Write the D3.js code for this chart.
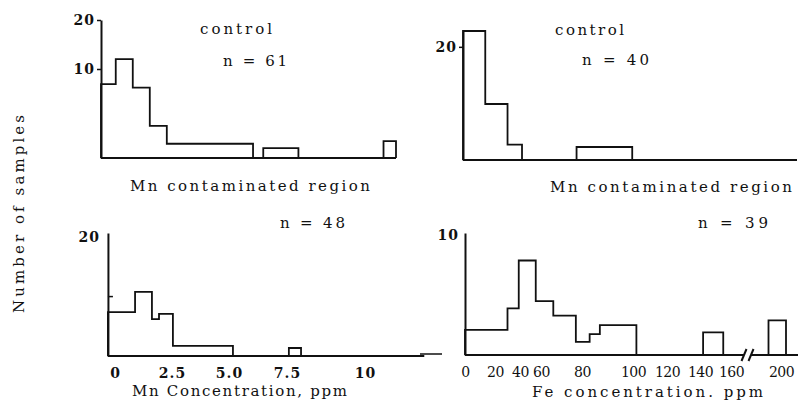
<!DOCTYPE html>
<html>
<head>
<meta charset="utf-8">
<script src="https://cdn.jsdelivr.net/npm/d3@7"></script>
<style>
  html, body { margin: 0; padding: 0; background: #fff; }
  svg { display: block; }
  svg text { font-family: "DejaVu Serif", "Liberation Serif", "Times New Roman", serif; fill: #111; }
</style>
</head>
<body>
<svg id="chart" width="798" height="405"></svg>
<script>
// ---------------- DATA ----------------
// Top-left: Mn, control (n = 61). Bin edges [x0, x1] and counts.
const mnControlBins   = [[0, 0.65], [0.65, 1.4], [1.4, 2.15], [2.15, 2.9], [2.9, 6.7], [7.15, 8.7], [12.45, 13]];
const mnControlCounts = [8.3, 12, 7.9, 3.6, 1.6, 1.1, 1.9];
const mnControlN = "n = 61";

// Top-right: Fe, control (n = 40).
const feControlBins   = [[0, 1], [1, 2], [2, 2.65], [5.1, 7.6]];
const feControlCounts = [22.8, 9.9, 2.7, 2.3];
const feControlN = "n = 40";

// Bottom-left: Mn, Mn contaminated region (n = 48).
const mnContBins   = [[-0.31, 0.88], [0.88, 1.62], [1.62, 1.93], [1.93, 2.54], [2.54, 5.17], [7.56, 7.95]];
const mnContCounts = [7.4, 10.8, 6.2, 7.1, 1.7, 1.35];
const mnContN = "n = 48";
const mnTickValues = [0, 2.5, 5, 7.5, 10];
const mnTickLabels = ["0", "2.5", "5.0", "7.5", "10"];

// Bottom-right: Fe, Mn contaminated region (n = 39).
const feContBins   = [[0, 30], [30, 39], [39, 55], [55, 66], [66, 77], [77, 83], [83, 87], [87, 102], [142, 155], [190, 204]];
const feContCounts = [2.1, 3.9, 7.9, 4.5, 3.3, 1.1, 1.75, 2.5, 1.9, 2.9];
const feContN = "n = 39";
const feTickValues = [0, 20, 40, 60, 80, 100, 120, 140, 160, 200];
const feTickLabels = ["0", "20", "40", "60", "80", "100", "120", "140", "160", "200"];
const feBreak = [170.4, 176];

const yTicksTL = [10, 20];
const yTicksTR = [20];
const yTicksBL = [20];
const yTicksBR = [10];

const titleControl = "control";
const titleRegion = "Mn contaminated region";
const xTitleMn = "Mn Concentration, ppm";
const xTitleFe = "Fe concentration. ppm";
const yTitle = "Number of samples";

// ---------------- DRAW ----------------
const svg = d3.select("#chart");
const SW = 1.8;
const FONT = '"DejaVu Serif", "Liberation Serif", serif';

function txt(s, x, y, len, size, weight) {
  const t = svg.append("text")
    .attr("x", x).attr("y", y)
    .attr("font-family", FONT)
    .attr("font-size", size || 15)
    .attr("font-weight", weight || "normal")
    .text(s);
  if (len) t.attr("textLength", len).attr("lengthAdjust", "spacing");
  return t;
}

// Step outline of a histogram (no inner dividers), one path per run of adjacent bins
function histogram(g, bins, counts, x, y) {
  const runs = [];
  bins.forEach((b, i) => {
    const last = runs[runs.length - 1];
    if (last && Math.abs(last[last.length - 1].x1 - b[0]) < 1e-9) last.push({ x0: b[0], x1: b[1], v: counts[i] });
    else runs.push([{ x0: b[0], x1: b[1], v: counts[i] }]);
  });
  const line = d3.line().x(d => x(d[0])).y(d => y(d[1]));
  g.selectAll("path.bar")
    .data(runs)
    .join("path")
    .attr("class", "bar")
    .attr("d", run => {
      const pts = [[run[0].x0, 0]];
      run.forEach(d => { pts.push([d.x0, d.v]); pts.push([d.x1, d.v]); });
      pts.push([run[run.length - 1].x1, 0]);
      return line(pts);
    })
    .attr("fill", "none")
    .attr("stroke", "#111")
    .attr("stroke-width", SW)
    .attr("stroke-linejoin", "miter");
}

function yAxis(g, y, xPos, ticks, labelDx) {
  const ax = d3.axisLeft(y).tickValues(ticks).tickSize(4).tickSizeOuter(0).tickFormat(d3.format("d"));
  const a = g.append("g").attr("transform", `translate(${xPos},0)`).call(ax);
  a.select(".domain").attr("stroke", "#111").attr("stroke-width", 2);
  a.selectAll(".tick line").attr("stroke", "#111").attr("stroke-width", 1.5);
  a.selectAll(".tick text")
    .attr("font-family", FONT)
    .attr("font-size", 14).attr("font-weight", "bold")
    .attr("letter-spacing", 1)
    .attr("fill", "#111")
    .attr("x", labelDx || -6);
  return a;
}

function baseline(g, x, y, a, b) {
  g.append("line")
    .attr("x1", x(a)).attr("x2", x(b))
    .attr("y1", y(0)).attr("y2", y(0))
    .attr("stroke", "#111").attr("stroke-width", SW);
}

// ---- Top-left ----
{
  const g = svg.append("g");
  const x = d3.scaleLinear().domain([0, 13]).range([101, 396]);
  const y = d3.scaleLinear().domain([0, 10, 20]).range([158, 69, 20]);
  histogram(g, mnControlBins, mnControlCounts, x, y);
  baseline(g, x, y, 0, 13);
  yAxis(g, y, 101, yTicksTL, -6);
  txt(titleControl, 200, 34, 72);
  txt(mnControlN, 223, 66, 64);
  txt(titleRegion, 130, 191, 240);
}

// ---- Top-right ----
{
  const g = svg.append("g");
  const x = d3.scaleLinear().domain([0, 15]).range([463, 797]);
  const y = d3.scaleLinear().domain([0, 22.8]).range([160, 31]);
  histogram(g, feControlBins, feControlCounts, x, y);
  baseline(g, x, y, 0, 15);
  yAxis(g, y, 463, yTicksTR, -6);
  txt(titleControl, 555, 35, 69);
  txt(feControlN, 582, 65, 67);
  txt(titleRegion, 550, 192, 242);
}

// ---- Bottom-left ----
{
  const g = svg.append("g");
  const x = d3.scaleLinear().domain(mnTickValues).range([115, 172, 229, 287, 365]);
  const y = d3.scaleLinear().domain([0, 20.7]).range([356, 233]);
  histogram(g, mnContBins, mnContCounts, x, y);
  baseline(g, x, y, -0.31, 11.9);
  const ya = yAxis(g, y, x(-0.31), yTicksBL, -8);
  ya.selectAll(".tick line").attr("x2", 0);
  g.append("line").attr("x1", x(-0.31)).attr("x2", x(-0.31) + 5)
    .attr("y1", y(10)).attr("y2", y(10)).attr("stroke", "#111").attr("stroke-width", 1.5);
  const xa = g.append("g").attr("transform", "translate(0,362)")
    .call(d3.axisBottom(x).tickValues(mnTickValues).tickSize(0).tickSizeOuter(0)
      .tickFormat((d, i) => mnTickLabels[i]));
  xa.select(".domain").remove();
  xa.selectAll(".tick text")
    .attr("font-family", FONT)
    .attr("font-size", 14).attr("font-weight", "bold")
    .attr("letter-spacing", 1).attr("fill", "#111").attr("dy", "0.9em");
  txt(mnContN, 280, 228, 65);
  txt(xTitleMn, 132, 396, 215);
}

// ---- Bottom-right ----
{
  const g = svg.append("g");
  const x = d3.scaleLinear().domain(feTickValues).range([465, 495, 520, 541, 582, 633, 667, 700, 731, 781]);
  const y = d3.scaleLinear().domain([0, 10.2]).range([355, 233]);
  histogram(g, feContBins, feContCounts, x, y);
  baseline(g, x, y, 0, feBreak[0]);
  baseline(g, x, y, feBreak[1], 213.6);
  feBreak.forEach(b => {
    g.append("line")
      .attr("x1", x(b) - 2.5).attr("x2", x(b) + 2.5)
      .attr("y1", y(0) + 6).attr("y2", y(0) - 6)
      .attr("stroke", "#111").attr("stroke-width", 2);
  });
  const ya = yAxis(g, y, 465, yTicksBR, -6);
  ya.selectAll(".tick line").attr("x2", 0);
  g.append("line").attr("x1", 420).attr("x2", 442).attr("y1", 354).attr("y2", 354)
    .attr("stroke", "#111").attr("stroke-width", 1.5);
  const xa = g.append("g").attr("transform", "translate(0,362)")
    .call(d3.axisBottom(x).tickValues(feTickValues).tickSize(0).tickSizeOuter(0)
      .tickFormat((d, i) => feTickLabels[i]));
  xa.select(".domain").remove();
  xa.selectAll(".tick text")
    .attr("font-family", FONT)
    .attr("font-size", 14).attr("fill", "#111").attr("dy", "0.85em")
    .attr("letter-spacing", -0.5);
  txt(feContN, 698, 228, 70);
  txt(xTitleFe, 532, 397, 231);
}

// ---- Shared y title ----
svg.append("text")
  .attr("transform", "translate(24,214) rotate(-90)")
  .attr("text-anchor", "middle")
  .attr("font-family", FONT)
  .attr("font-size", 15)
  .attr("textLength", 198).attr("lengthAdjust", "spacing")
  .text(yTitle);
</script>
</body>
</html>
